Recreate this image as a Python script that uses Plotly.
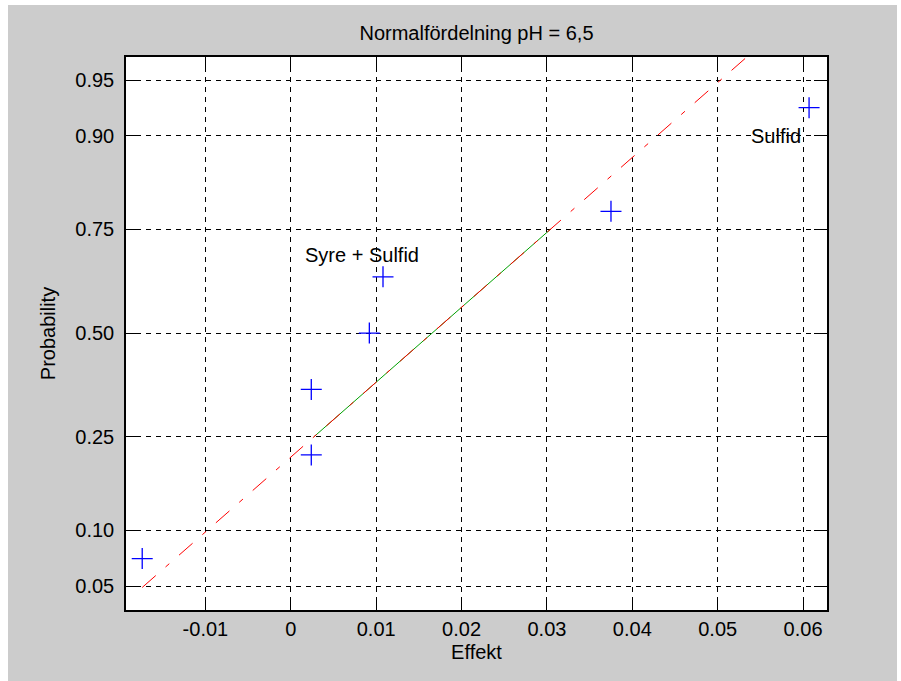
import plotly.graph_objects as go
from statistics import NormalDist

# ---- data ----
effekt = [-0.0174, 0.0024, 0.0024, 0.0092, 0.0108, 0.0375, 0.0607]
probability = [0.0714, 0.2143, 0.3571, 0.5, 0.6429, 0.7857, 0.9286]
quartile_x = [0.0027, 0.0304]          # x of the fitted line at p = 0.25 and 0.75
quartile_p = [0.25, 0.75]
prob_ticks = [0.05, 0.10, 0.25, 0.50, 0.75, 0.90, 0.95]
prob_tick_labels = ["0.05", "0.10", "0.25", "0.50", "0.75", "0.90", "0.95"]
x_ticks = [-0.01, 0, 0.01, 0.02, 0.03, 0.04, 0.05, 0.06]
x_tick_labels = ["-0.01", "0", "0.01", "0.02", "0.03", "0.04", "0.05", "0.06"]
notes = ["Syre + Sulfid", "Sulfid"]
note_x = [0.0014, 0.0537]
note_p = [0.694, 0.90]

nd = NormalDist()
z = lambda p: nd.inv_cdf(p)

pts_z = [z(p) for p in probability]
qz = [z(p) for p in quartile_p]
slope = (qz[1] - qz[0]) / (quartile_x[1] - quartile_x[0])
line_x = [min(effekt), max(effekt)]
line_z = [qz[0] + slope * (xx - quartile_x[0]) for xx in line_x]

FONT = "Liberation Sans, Arial, sans-serif"
fig = go.Figure()

fig.add_trace(go.Scatter(x=quartile_x, y=qz, mode="lines",
                         line=dict(color="rgb(0,160,0)", width=1), showlegend=False))
fig.add_trace(go.Scatter(x=line_x, y=line_z, mode="lines",
                         line=dict(color="rgb(255,0,0)", width=1, dash="18px,13px,5px,13px"),
                         showlegend=False))
fig.add_trace(go.Scatter(x=effekt, y=pts_z, mode="markers",
                         marker=dict(symbol="cross-thin", size=15,
                                     line=dict(color="rgb(0,0,255)", width=1.3)),
                         showlegend=False))

for t, nx, npp in zip(notes, note_x, note_p):
    fig.add_annotation(x=nx, y=z(npp), text=t, showarrow=False, xanchor="left",
                       yanchor="middle", font=dict(family=FONT, size=20, color="black"))

axis_common = dict(showline=True, linecolor="black", linewidth=1.5, mirror="ticks",
                   ticks="inside", ticklen=13, tickcolor="black", tickwidth=1,
                   showgrid=True, gridcolor="black", gridwidth=1, griddash="5px,5px",
                   zeroline=False, tickfont=dict(family=FONT, size=20, color="black"))

fig.update_xaxes(range=[-0.0193, 0.0628], tickvals=x_ticks, ticktext=x_tick_labels,
                 title=dict(text="Effekt", font=dict(family=FONT, size=20, color="black"),
                            standoff=6),
                 **axis_common)
fig.update_yaxes(range=[-1.800, 1.795], tickvals=[z(p) for p in prob_ticks],
                 ticktext=prob_tick_labels, ticklabelstandoff=6,
                 title=dict(text="Probability", font=dict(family=FONT, size=20, color="black"),
                            standoff=14),
                 **axis_common)

fig.update_layout(
    width=889, height=676,
    margin=dict(l=118, r=70, t=52, b=71),
    paper_bgcolor="rgb(204,204,204)", plot_bgcolor="white",
    title=dict(text="Normalfördelning pH = 6,5", x=0.5, xref="paper", xanchor="center",
               y=1 - 28 / 676, yref="container", yanchor="middle",
               font=dict(family=FONT, size=20, color="black")),
)

fig.write_html("out.html",
               post_script="document.body.style.margin='5px 0 0 8px';")
